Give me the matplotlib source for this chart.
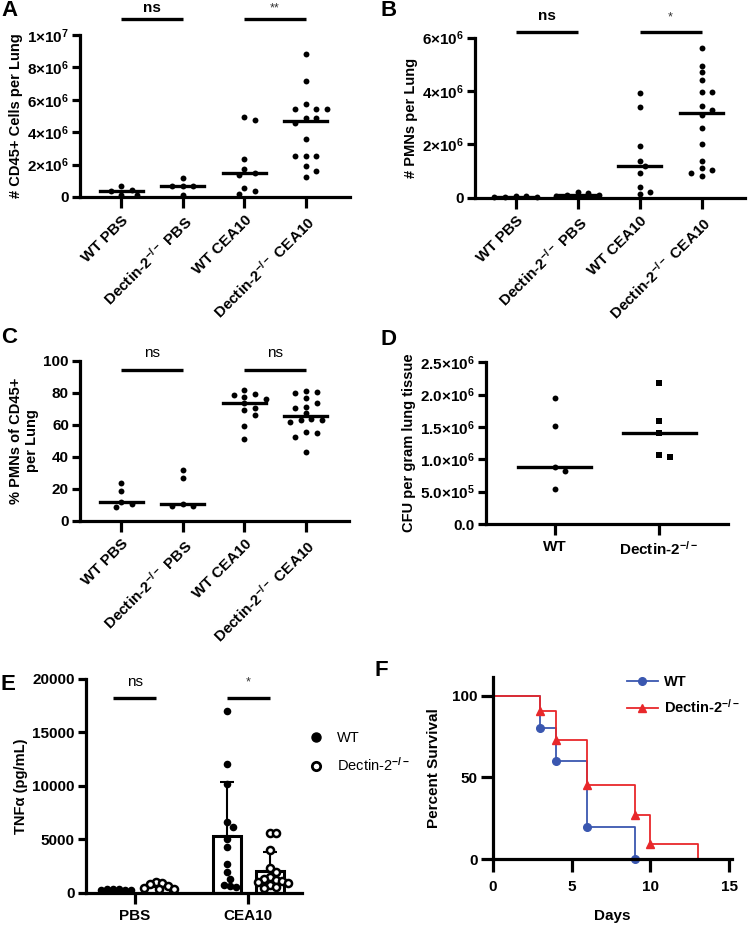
import numpy as np
import matplotlib
matplotlib.use('Agg')
import matplotlib.pyplot as plt
from matplotlib.lines import Line2D

plt.rcParams['font.family'] = ['Liberation Sans', 'DejaVu Sans']
plt.rcParams['font.weight'] = 'bold'
plt.rcParams['axes.labelweight'] = 'bold'
plt.rcParams['mathtext.fontset'] = 'custom'
plt.rcParams['mathtext.rm'] = 'Liberation Sans'
plt.rcParams['mathtext.bf'] = 'Liberation Sans:bold'
plt.rcParams['mathtext.default'] = 'bf'

# ---- data ----
group_labels = ['WT PBS', r'Dectin-2$^{-/-}$ PBS', 'WT CEA10', r'Dectin-2$^{-/-}$ CEA10']

# A: CD45+ cells per lung (x10^6)
cd45_wt_pbs = [0.65, 0.45, 0.35, 0.15, 0.12]
cd45_ko_pbs = [1.15, 0.7, 0.7, 0.7, 0.15]
cd45_wt_cea = [4.96, 4.75, 2.35, 1.7, 1.5, 1.35, 0.56, 0.37, 0.2]
cd45_ko_cea = [8.85, 7.19, 5.73, 5.42, 5.42, 5.42, 4.85, 4.85, 4.58, 3.6,
               2.56, 2.56, 2.56, 1.92, 1.63, 1.25]

# B: PMNs per lung (x10^6)
pmn_wt_pbs = [0.05, 0.05, 0.04, 0.04, 0.04]
pmn_ko_pbs = [0.22, 0.16, 0.1, 0.1, 0.06]
pmn_wt_cea = [3.91, 3.4, 1.95, 1.39, 1.19, 0.91, 0.39, 0.2, 0.15]
pmn_ko_cea = [5.63, 4.93, 4.7, 4.43, 3.97, 3.97, 3.44, 3.28, 3.1, 2.6,
              2.0, 1.38, 1.13, 1.05, 0.94, 0.8]

# C: % PMNs of CD45+
pct_wt_pbs = [23.4, 18.4, 11.9, 10.6, 8.4]
pct_ko_pbs = [31.5, 26.9, 10.4, 9.2, 9.2]
pct_wt_cea = [81.8, 79.1, 78.7, 77.7, 76.2, 73.5, 70.8, 69.1, 66.2, 59.5, 50.9]
pct_ko_cea = [81.5, 80.4, 79.7, 76.6, 73.5, 71.4, 70.4, 67.2, 63.5, 63.0, 63.0,
              62.0, 55.5, 55.0, 52.6, 43.2]

# D: CFU per gram lung tissue (x10^6)
cfu_labels = ['WT', r'Dectin-2$^{-/-}$']
cfu_wt = [1.954, 1.52, 0.887, 0.825, 0.536]
cfu_ko = [2.175, 1.59, 1.41, 1.06, 1.03]

# E: TNFa (pg/mL)
tnf_groups = ['PBS', 'CEA10']
tnf_wt_pbs = [320, 300, 300, 280, 260, 250]
tnf_ko_pbs = [1000, 950, 800, 600, 450, 350, 300]
tnf_wt_cea = [17000, 12050, 10140, 6600, 6170, 4990, 4310, 2680, 1900, 1280, 720, 600, 560]
tnf_ko_cea = [5600, 5550, 4000, 2300, 1900, 1500, 1300, 1200, 1100, 1000, 900, 700, 500, 400]

# F: survival
wt_days = [0, 3, 4, 6, 9]
wt_surv = [100, 80, 60, 20, 0]
ko_days = [0, 3, 4, 6, 9, 10, 13]
ko_surv = [100, 90.9, 72.7, 45.5, 27.3, 9.1, 0]

W, H = 750, 926
fig = plt.figure(figsize=(W / 100, H / 100), dpi=100)


def add_px(left, top, right, bottom):
    return fig.add_axes([left / W, 1 - bottom / H, (right - left) / W, (bottom - top) / H])


def style(ax, xlen=8, ylen=6):
    for s in ['top', 'right']:
        ax.spines[s].set_visible(False)
    for s in ['left', 'bottom']:
        ax.spines[s].set_linewidth(2.3)
    ax.tick_params(axis='y', width=2.3, length=ylen, labelsize=11, pad=2)
    ax.tick_params(axis='x', width=2.3, length=xlen, labelsize=11)


def swarm_x(ax, x0, values, wx=10.5, wy=6.0, step=5.3):
    # simple beeswarm in pixel space, Prism-like columns
    tr = ax.transData
    px_x = tr.transform((1, 0))[0] - tr.transform((0, 0))[0]
    cands = [0]
    for j in range(1, 20):
        cands += [j, -j]
    placed, xs = [], []
    for v in values:
        y = tr.transform((0, v))[1]
        for c in cands:
            dx = c * step
            if all(((dx - px) / wx) ** 2 + ((y - py) / wy) ** 2 >= 1 for px, py in placed):
                break
        placed.append((dx, y))
        xs.append(x0 + dx / px_x)
    return xs


def bracket(ax, x1, x2, y, ty, label, **kw):
    ax.plot([x1, x2], [y, y], color='k', lw=2.4, clip_on=False, solid_capstyle='butt')
    ax.text((x1 + x2) / 2, ty, label, ha='center', va='center', clip_on=False, **kw)


def dot_panel(ax, groups, scale, markers, s=18):
    for i, vals in enumerate(groups):
        v = np.array(vals) * scale
        xs = swarm_x(ax, i, v)
        ax.scatter(xs, v, s=s, c='k', marker=markers[i], zorder=3, clip_on=False, linewidths=0)
        med = np.median(v)
        ax.plot([i - 0.35, i + 0.35], [med, med], color='k', lw=2.4, zorder=4)


def rot_labels(ax, labels):
    ax.set_xticks(range(len(labels)))
    ax.set_xticklabels(labels, rotation=45, ha='right', rotation_mode='anchor')


# ---- A ----
axA = add_px(80, 35, 350, 197)
axA.set_xlim(-0.67, 3.72)
axA.set_ylim(0, 1e7)
style(axA)
axA.set_yticks([0, 2e6, 4e6, 6e6, 8e6, 1e7])
axA.set_yticklabels(['0', r'2×10$^{6}$', r'4×10$^{6}$', r'6×10$^{6}$', r'8×10$^{6}$', r'1×10$^{7}$'])
dot_panel(axA, [cd45_wt_pbs, cd45_ko_pbs, cd45_wt_cea, cd45_ko_cea], 1e6, ['o'] * 4)
rot_labels(axA, group_labels)
axA.set_ylabel('# CD45+ Cells per Lung', fontsize=10.5, labelpad=3)
bracket(axA, 0, 1, 1.096e7, 1.165e7, 'ns', fontsize=11)
bracket(axA, 2, 3, 1.096e7, 1.165e7, '**', fontsize=9, fontweight='normal', color='#333333')

# ---- B ----
axB = add_px(475, 37.7, 745, 197.7)
axB.set_xlim(-0.656, 3.7)
axB.set_ylim(0, 6e6)
style(axB)
axB.set_yticks([0, 2e6, 4e6, 6e6])
axB.set_yticklabels(['0', r'2×10$^{6}$', r'4×10$^{6}$', r'6×10$^{6}$'])
dot_panel(axB, [pmn_wt_pbs, pmn_ko_pbs, pmn_wt_cea, pmn_ko_cea], 1e6, ['o'] * 4)
rot_labels(axB, group_labels)
axB.set_ylabel('# PMNs per Lung', fontsize=10.5, labelpad=3)
bracket(axB, 0, 1, 6.22e6, 6.8e6, 'ns', fontsize=11)
bracket(axB, 2, 3, 6.22e6, 6.75e6, '*', fontsize=9, fontweight='normal', color='#333333')

# ---- C ----
axC = add_px(80, 361, 349, 520.7)
axC.set_xlim(-0.67, 3.7)
axC.set_ylim(0, 100)
style(axC)
axC.set_yticks([0, 20, 40, 60, 80, 100])
dot_panel(axC, [pct_wt_pbs, pct_ko_pbs, pct_wt_cea, pct_ko_cea], 1, ['o'] * 4)
rot_labels(axC, group_labels)
axC.set_ylabel('% PMNs of CD45+\nper Lung', fontsize=10.5, labelpad=3)
bracket(axC, 0, 1, 94.4, 105, 'ns', fontsize=11, fontweight='normal')
bracket(axC, 2, 3, 94.4, 105, 'ns', fontsize=11, fontweight='normal')

# ---- D ----
axD = add_px(486, 362.3, 728, 524)
axD.set_xlim(-0.66, 1.66)
axD.set_ylim(0, 2.5e6)
style(axD)
axD.set_yticks([0, 5e5, 1e6, 1.5e6, 2e6, 2.5e6])
axD.set_yticklabels(['0.0', r'5.0×10$^{5}$', r'1.0×10$^{6}$', r'1.5×10$^{6}$',
                     r'2.0×10$^{6}$', r'2.5×10$^{6}$'])
dot_panel(axD, [cfu_wt, cfu_ko], 1e6, ['o', 's'])
axD.set_xticks([0, 1])
axD.set_xticklabels(cfu_labels)
axD.set_ylabel('CFU per gram lung tissue', fontsize=10.5, labelpad=3)

# ---- E ----
axE = add_px(86, 679, 302, 892.7)
axE.set_xlim(-0.432, 1.474)
axE.set_ylim(0, 20000)
style(axE)
axE.set_yticks([0, 5000, 10000, 15000, 20000])
axE.set_xticks([0, 1])
axE.set_xticklabels(tnf_groups)
off, bw = 0.19, 0.245
for gi, (wt, ko) in enumerate([(tnf_wt_pbs, tnf_ko_pbs), (tnf_wt_cea, tnf_ko_cea)]):
    for xc, vals, filled in [(gi - off, wt, True), (gi + off, ko, False)]:
        v = np.array(vals, dtype=float)
        m, sd = v.mean(), v.std(ddof=1)
        axE.bar(xc, m, width=bw, facecolor='white', edgecolor='k', linewidth=2.2, zorder=1)
        axE.errorbar(xc, m, yerr=[[0], [sd]], fmt='none', ecolor='k', elinewidth=1.5,
                     capsize=5, capthick=1.5, zorder=2)
        xs = swarm_x(axE, xc, v, wx=6.0, wy=7.0, step=3.0)
        if filled:
            axE.scatter(xs, v, s=30, c='k', zorder=3, linewidths=0)
        else:
            axE.scatter(xs, v, s=26, facecolors='white', edgecolors='k', linewidths=1.8, zorder=3)
axE.set_ylabel('TNFα (pg/mL)', fontsize=10.5, labelpad=3)
bracket(axE, -off, off, 18250, 19750, 'ns', fontsize=11, fontweight='normal')
bracket(axE, 1 - off, 1 + off, 18250, 19700, '*', fontsize=9, fontweight='normal', color='#333333')
hE = [Line2D([], [], marker='o', ls='', color='k', markersize=6.5),
      Line2D([], [], marker='o', ls='', markerfacecolor='white', markeredgecolor='k',
             markeredgewidth=2, markersize=6)]
fig.legend(hE, ['WT', r'Dectin-2$^{\mathrm{-/-}}$'], loc='upper left',
           bbox_to_anchor=(296 / W, 1 - 718 / H), frameon=False, handlelength=1.0,
           handletextpad=0.9, labelspacing=0.75, prop={'size': 10.5, 'weight': 'normal'})

# ---- F ----
axF = add_px(492.7, 676.7, 731.7, 859.3)
axF.set_xlim(0, 15.15)
axF.set_ylim(0, 111.6)
style(axF, xlen=9, ylen=9)
axF.set_xticks([0, 5, 10, 15])
axF.set_yticks([0, 50, 100])
axF.step(wt_days, wt_surv, where='post', color='#3a57b0', lw=1.3, clip_on=False)
axF.plot(wt_days[1:], wt_surv[1:], 'o', color='#3a57b0', markersize=5.5, clip_on=False)
axF.step(ko_days, ko_surv, where='post', color='#e8282b', lw=1.3, clip_on=False)
axF.plot(ko_days[1:-1], ko_surv[1:-1], '^', color='#e8282b', markersize=5.5, clip_on=False)
axF.set_ylabel('Percent Survival', fontsize=11, labelpad=8)
axF.set_xlabel('Days', fontsize=11, labelpad=11)
axF.tick_params(axis='x', pad=6)
hF = [Line2D([], [], color='#3a57b0', lw=1.3, marker='o', markersize=5.5),
      Line2D([], [], color='#e8282b', lw=1.3, marker='^', markersize=5.5)]
fig.legend(hF, ['WT', r'Dectin-2$^{-/-}$'], loc='upper left',
           bbox_to_anchor=(614 / W, 1 - 662 / H), frameon=False, handlelength=2.1,
           handletextpad=0.4, labelspacing=0.6, prop={'size': 10.5, 'weight': 'bold'})

# panel letters
for lab, x, y in [('A', 1, 0), ('B', 381, 0), ('C', 1, 327), ('D', 380, 329),
                  ('E', 1, 674), ('F', 375, 660)]:
    fig.text(x / W, 1 - y / H, lab, fontsize=16, fontweight='bold', va='top', ha='left')

fig.savefig('out.png', dpi=100)
